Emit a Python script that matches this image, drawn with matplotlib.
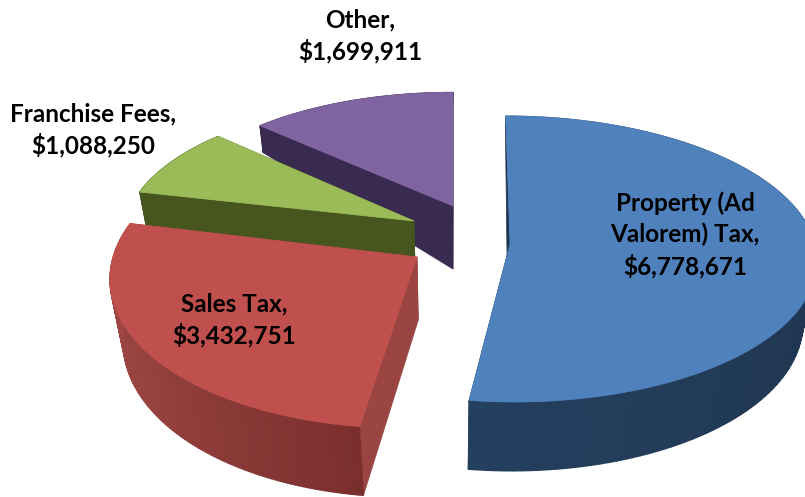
#!/usr/bin/env python3
import numpy as np
import matplotlib
matplotlib.use('Agg')
import matplotlib.pyplot as plt
from matplotlib.colors import LinearSegmentedColormap
from matplotlib.patches import Polygon

categories = ['Property (Ad\nValorem) Tax', 'Sales Tax', 'Franchise Fees', 'Other']
values = [6778671, 3432751, 1088250, 1699911]

top_colors = ['#4f81bd', '#c0504d', '#9bbb59', '#8064a2']
face_colors = ['#1f3550', '#9a4542', '#47561f', '#392a50']
# wall colour at start angle, middle, end angle of each slice
wall_colors = [['#2f5479', '#1f3550', '#24405f'],
               ['#7b2f2d', '#96423f', '#a64a47'],
               ['#47561f', '#47561f', '#47561f'],
               ['#392a50', '#392a50', '#392a50']]

# apex position and radii of each exploded slice, in pixels
apex_x = [510, 417, 414, 453]
apex_y = [244, 257, 221, 206]
radius_x = [305, 304, 288, 284]
radius_y = [143, 155, 134, 127]
shear = [0.03, -0.08, 0.0, 0.0]
label_x = [685, 234, 93, 360]
label_y = [235, 320, 130, 36]

persp = 0.105
vanish_x = 450
draw_order = [3, 0, 2, 1]


def depth(down):
    # wall height gets smaller towards the back of the pie
    return np.where(down > 0, 63 + 6 * down, 63 * (1 + 0.84 * down))


def top_point(i, phi, r=1.0):
    down = -r * np.cos(phi)
    s = 1 + persp * down
    x = apex_x[i] + radius_x[i] * r * np.sin(phi) * s + shear[i] * radius_y[i] * down
    y = apex_y[i] + radius_y[i] * down * s
    return x, y


def bottom_point(i, phi, r=1.0):
    x, y = top_point(i, phi, r)
    d = depth(-r * np.cos(phi))
    return vanish_x + (x - vanish_x) * (1 - 0.04 * d / 65), y + d


def cut_face(ax, i, phi):
    xt, yt = top_point(i, phi)
    xb, yb = bottom_point(i, phi)
    xa, ya = top_point(i, phi, 0.0)
    xc, yc = bottom_point(i, phi, 0.0)
    pts = [(xa, ya), (xt, yt), (xb, yb), (xc, yc)]
    ax.add_patch(Polygon(pts, closed=True, fc=face_colors[i], ec=face_colors[i], lw=0.5))


fg = plt.figure(figsize=(8.05, 4.97), dpi=100)
ax = fg.add_axes([0, 0, 1, 1])

edges = np.concatenate(([0], np.cumsum(values))) / sum(values) * 2 * np.pi

for i in draw_order:
    a0, a1 = edges[i], edges[i + 1]
    cut_face(ax, i, a0)
    cut_face(ax, i, a1)
    # outer wall, smooth shading along the arc
    phis = np.linspace(a0, a1, 120)
    xt, yt = top_point(i, phis)
    xb, yb = bottom_point(i, phis)
    t = np.linspace(0, 1, len(phis))
    cmap = LinearSegmentedColormap.from_list('wall', wall_colors[i])
    ax.pcolormesh(np.vstack((xt, xb)), np.vstack((yt, yb)), np.vstack((t, t)),
                  shading='gouraud', cmap=cmap, vmin=0, vmax=1)
    xa, ya = top_point(i, a0, 0.0)
    pts = np.column_stack((np.r_[xa, xt], np.r_[ya, yt]))
    ax.add_patch(Polygon(pts, closed=True, fc=top_colors[i], ec=top_colors[i], lw=0.5))

ax.set_xlim(0, 805)
ax.set_ylim(497, 0)
ax.axis('off')

for i in range(len(values)):
    ax.text(label_x[i], label_y[i], '{},\n${:,}'.format(categories[i], values[i]),
            ha='center', va='center', family='Lato', weight='bold', fontsize=17.5,
            linespacing=1.38, color='black')

fg.savefig('out.png', dpi=100)
